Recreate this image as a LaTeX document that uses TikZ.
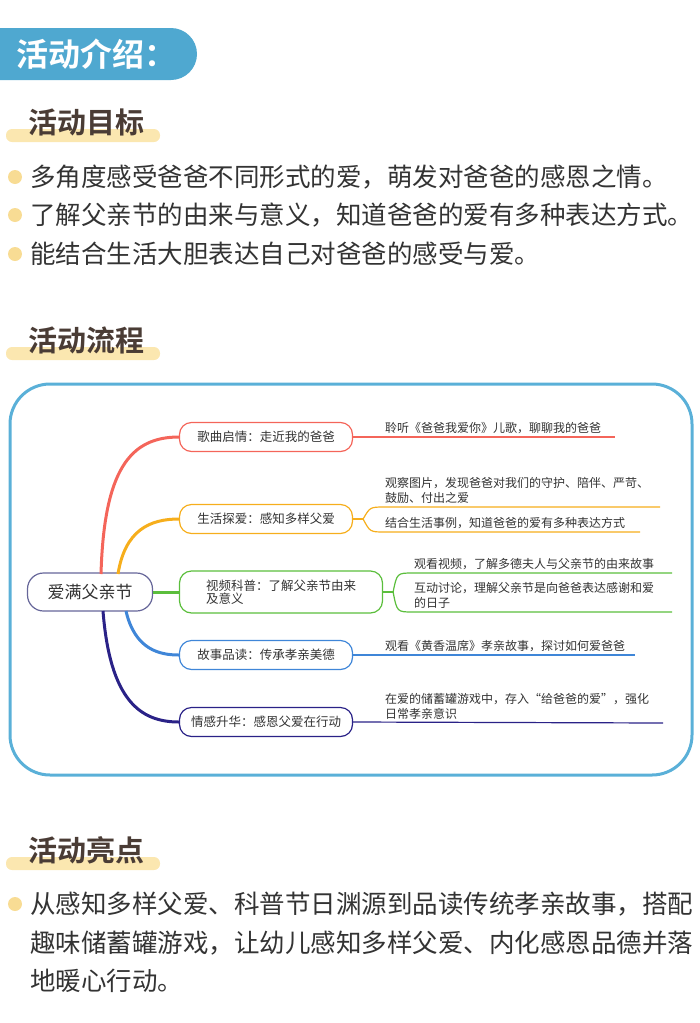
\documentclass[tikz,border=0pt]{standalone}
\usepackage{fontspec}
\setmainfont{Noto Sans CJK SC}
\newfontfamily\cjkb{Noto Sans CJK SC Bold}
\usetikzlibrary{positioning}
\definecolor{hdblue}{HTML}{4FA8D0}
\definecolor{boxblue}{HTML}{5AB0D8}
\definecolor{hilite}{HTML}{FBE7B0}
\definecolor{dot}{HTML}{F8DC94}
\definecolor{ttl}{HTML}{4A3C35}
\definecolor{txt}{HTML}{333333}
\definecolor{cred}{HTML}{F4655A}
\definecolor{cora}{HTML}{F6AE1C}
\definecolor{cgrn}{HTML}{5BBE3C}
\definecolor{cblu}{HTML}{3F86D8}
\definecolor{cnav}{HTML}{2A2287}
\tikzset{
  sect/.style={font=\cjkb\fontsize{29}{29}\selectfont,text=ttl,anchor=west,inner sep=0},
  bar/.style={fill=hilite,rounded corners=6pt},
  bul/.style={font=\fontsize{25.5}{38}\selectfont,text=txt,anchor=west,inner sep=0},
  branch/.style={draw=#1,line width=1.2pt,rounded corners=12pt,minimum width=173pt,
    minimum height=29pt,font=\fontsize{12.5}{13}\selectfont,text=txt,align=left},
  leaf/.style={font=\fontsize{12}{15}\selectfont,text=txt,anchor=south west,align=left,inner sep=1pt},
  limb/.style={draw=#1,line width=1.2pt},
  stem/.style={draw=#1,line width=3pt},
}
\begin{document}
\begin{tikzpicture}[x=1pt,y=-1pt]
\useasboundingbox (0,0) rectangle (700,1023);
% header
\fill[hdblue,rounded corners=26pt] (-40,28) rectangle (197,80);
\node[font=\cjkb\fontsize{32}{32}\selectfont,text=white,anchor=west,inner sep=0] (head) at (16,54) {活动介绍：};
% goals
\fill[bar] (6,129) rectangle (160,142);
\node[sect] (goal) at (28,122) {活动目标};
\foreach \y/\t in {177/多角度感受爸爸不同形式的爱，萌发对爸爸的感恩之情。,
                   215/了解父亲节的由来与意义，知道爸爸的爱有多种表达方式。,
                   254/能结合生活大胆表达自己对爸爸的感受与爱。}{
  \fill[dot] (15,\y) circle (7);
  \node[bul] at (30,\y) {\t};
}
% flow
\fill[bar] (6,347) rectangle (160,360);
\node[sect] (flow) at (28,340) {活动流程};
\draw[boxblue,line width=3pt,rounded corners=40pt] (10,384) rectangle (692,775);
\node[draw=gray!80!blue,line width=1.2pt,rounded corners=16pt,minimum width=125pt,
  minimum height=38pt,font=\fontsize{17}{17}\selectfont,text=txt] (root) at (90,592) {爱满父亲节};
\node[branch=cred] (b1) at (266,437) {歌曲启情：走近我的爸爸};
\node[branch=cora] (b2) at (266,519) {生活探爱：感知多样父爱};
\node[branch=cgrn,minimum height=42pt,minimum width=203pt] (b3) at (281,592) {视频科普：了解父亲节由来\\及意义};
\node[branch=cblu] (b4) at (266,655) {故事品读：传承孝亲美德};
\node[branch=cnav] (b5) at (266,722) {情感升华：感恩父爱在行动};
\draw[stem=cred] (101,574) .. controls (104,470) and (130,437) .. (b1.west);
\draw[stem=cora] (118,574) .. controls (125,530) and (150,519) .. (b2.west);
\draw[stem=cgrn] (root.east) -- (b3.west);
\draw[stem=cblu] (126,611) .. controls (135,650) and (160,655) .. (b4.west);
\draw[stem=cnav] (103,611) .. controls (110,700) and (140,722) .. (b5.west);
% leaves
\coordinate (l1) at (615,437);
\draw[limb=cred] (b1.east) -- (l1);
\node[leaf] at (384,435) {聆听《爸爸我爱你》儿歌，聊聊我的爸爸};
\coordinate (l2a) at (660,507); \coordinate (l2b) at (640,532);
\draw[limb=cora] (b2.east) -- +(10,0) coordinate (s2);
\draw[limb=cora] (s2) .. controls (370,507) .. (385,507) -- (l2a);
\draw[limb=cora] (s2) .. controls (370,532) .. (385,532) -- (l2b);
\node[leaf] at (384,505) {观察图片，发现爸爸对我们的守护、陪伴、严苛、\\鼓励、付出之爱};
\node[leaf] at (384,530) {结合生活事例，知道爸爸的爱有多种表达方式};
\coordinate (l3a) at (672,573); \coordinate (l3b) at (672,612);
\draw[limb=cgrn] (b3.east) -- +(10,0) coordinate (s3);
\draw[limb=cgrn] (s3) .. controls (397,573) .. (413,573) -- (l3a);
\draw[limb=cgrn] (s3) .. controls (397,612) .. (413,612) -- (l3b);
\node[leaf] at (413,571) {观看视频，了解多德夫人与父亲节的由来故事};
\node[leaf] at (413,610) {互动讨论，理解父亲节是向爸爸表达感谢和爱\\的日子};
\coordinate (l4) at (635,655);
\draw[limb=cblu] (b4.east) -- (l4);
\node[leaf] at (384,653) {观看《黄香温席》孝亲故事，探讨如何爱爸爸};
\coordinate (l5) at (663,723);
\draw[limb=cnav] (b5.east) -- (l5);
\node[leaf] at (384,721) {在爱的储蓄罐游戏中，存入“给爸爸的爱”，强化\\日常孝亲意识};
% highlights
\fill[bar] (6,857) rectangle (160,870);
\node[sect] (high) at (28,850) {活动亮点};
\fill[dot] (15,904) circle (7);
\node[bul] at (30,904) {从感知多样父爱、科普节日渊源到品读传统孝亲故事，搭配};
\node[bul] at (30,943) {趣味储蓄罐游戏，让幼儿感知多样父爱、内化感恩品德并落};
\node[bul] at (30,981) {地暖心行动。};
\end{tikzpicture}
\end{document}
